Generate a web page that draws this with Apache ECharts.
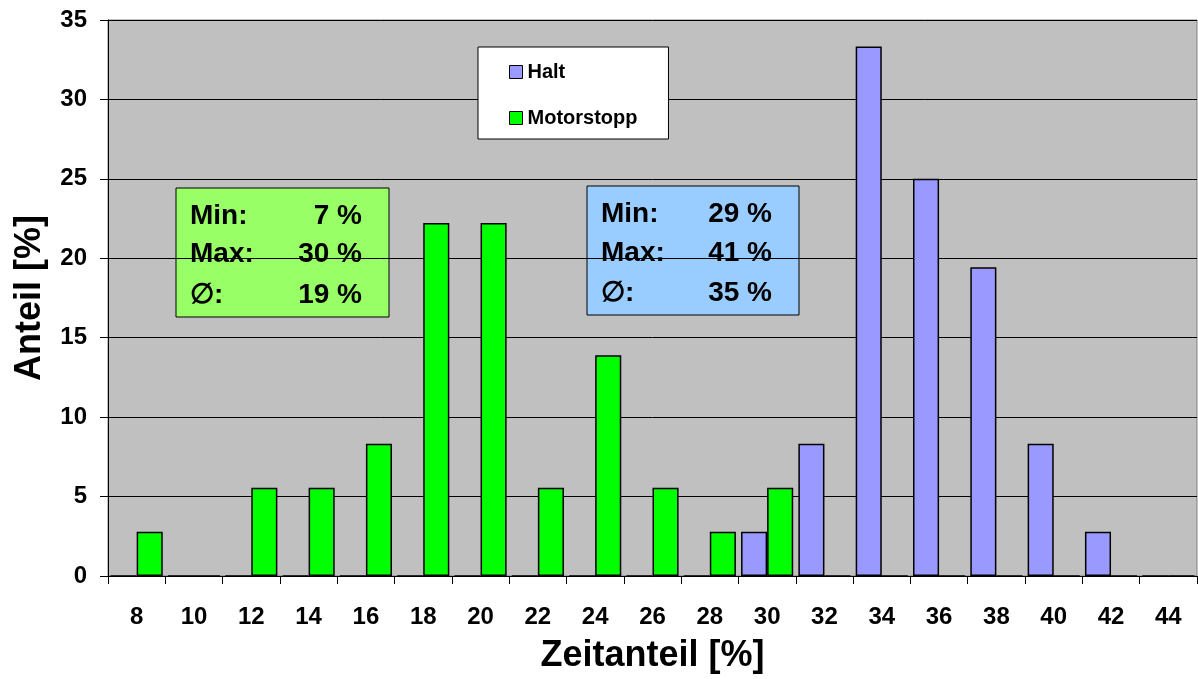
<!DOCTYPE html>
<html>
<head>
<meta charset="utf-8">
<script src="https://cdn.jsdelivr.net/npm/echarts@6/dist/echarts.min.js"></script>
<style>
  html, body { margin: 0; padding: 0; background: #ffffff; }
  #chart { width: 1198px; height: 679px; }
</style>
</head>
<body>
<div id="chart"></div>
<script>
// Zeitanteil classes (x axis categories)
const categories = ['8','10','12','14','16','18','20','22','24','26','28','30','32','34','36','38','40','42','44'];

// Share of trips per class, in percent
const haltValues = [0, 0, 0, 0, 0, 0, 0, 0, 0, 0, 0, 2.78, 8.33, 33.33, 25, 19.44, 8.33, 2.78, 0];
const motorstoppValues = [2.78, 0, 5.56, 5.56, 8.33, 22.22, 22.22, 5.56, 13.89, 5.56, 2.78, 5.56, 0, 0, 0, 0, 0, 0, 0];

// Summary boxes
const statLabels = ['Min:', 'Max:', '\u2205:'];
const motorstoppStats = ['7 %', '30 %', '19 %'];
const haltStats = ['29 %', '41 %', '35 %'];

const FONT = '"Liberation Sans", Arial, Helvetica, sans-serif';

function statBox(x, y, w, h, fill, rowYs, valueRight, values) {
  const children = [{
    type: 'rect',
    shape: { x: 0, y: 0, width: w, height: h },
    style: { fill: fill, stroke: '#000000', lineWidth: 1 }
  }];
  statLabels.forEach((lab, i) => {
    children.push({
      type: 'text',
      x: 14, y: rowYs[i],
      style: { text: lab, fill: '#000', font: 'bold 28px ' + FONT, align: 'left', verticalAlign: 'middle' }
    });
    children.push({
      type: 'text',
      x: valueRight, y: rowYs[i],
      style: { text: values[i], fill: '#000', font: 'bold 28px ' + FONT, align: 'right', verticalAlign: 'middle' }
    });
  });
  return { type: 'group', x: x, y: y, z: 100, children: children };
}

const chart = echarts.init(document.getElementById('chart'), null, { renderer: 'canvas' });

chart.setOption({
  animation: false,
  backgroundColor: '#ffffff',
  grid: {
    left: 108, right: 1, top: 20, bottom: 102,
    show: true,
    backgroundColor: '#C0C0C0',
    borderColor: '#808080',
    borderWidth: 1
  },
  legend: {
    data: ['Halt', 'Motorstopp'],
    orient: 'vertical',
    left: 478, top: 47,
    padding: [15, 31, 11, 31],
    itemGap: 26,
    itemWidth: 13, itemHeight: 13,
    icon: 'rect',
    backgroundColor: '#ffffff',
    borderColor: '#000000',
    borderWidth: 1,
    itemStyle: { borderColor: '#000000', borderWidth: 1 },
    textStyle: { fontFamily: FONT, fontWeight: 'bold', fontSize: 20, color: '#000' }
  },
  xAxis: {
    type: 'category',
    data: categories,
    name: 'Zeitanteil [%]',
    nameLocation: 'middle',
    nameGap: 62,
    nameTextStyle: { fontFamily: FONT, fontWeight: 'bold', fontSize: 36, color: '#000' },
    axisLine: { show: true, lineStyle: { color: '#000', width: 1 } },
    axisTick: { show: true, length: 8, interval: 0, lineStyle: { color: '#000' } },
    axisLabel: { interval: 0, margin: 29, fontFamily: FONT, fontWeight: 'bold', fontSize: 24, color: '#000' },
    splitLine: { show: false }
  },
  yAxis: {
    type: 'value',
    min: 0, max: 35, interval: 5,
    name: 'Anteil [%]',
    nameLocation: 'middle',
    nameGap: 60,
    nameRotate: 90,
    nameTextStyle: { fontFamily: FONT, fontWeight: 'bold', fontSize: 36, color: '#000' },
    axisLine: { show: true, lineStyle: { color: '#000', width: 1 } },
    axisTick: { show: true, length: 8, lineStyle: { color: '#000' } },
    axisLabel: { margin: 21, fontFamily: FONT, fontWeight: 'bold', fontSize: 24, color: '#000' },
    splitLine: { show: true, lineStyle: { color: '#000', width: 1 } }
  },
  series: [
    {
      name: 'Halt',
      type: 'bar',
      data: haltValues,
      barGap: '0%',
      barCategoryGap: '9%',
      itemStyle: { color: '#9999FF', borderColor: '#000', borderWidth: 1.5 }
    },
    {
      name: 'Motorstopp',
      type: 'bar',
      data: motorstoppValues,
      barGap: '0%',
      barCategoryGap: '9%',
      itemStyle: { color: '#00FF00', borderColor: '#000', borderWidth: 1.5 }
    }
  ],
  graphic: [
    statBox(176, 188, 213, 129, '#99FF66', [28, 66.5, 107.5], 186, motorstoppStats),
    statBox(587, 186, 212, 129, '#99CCFF', [28, 67.5, 107.5], 185, haltStats)
  ]
});
</script>
</body>
</html>
